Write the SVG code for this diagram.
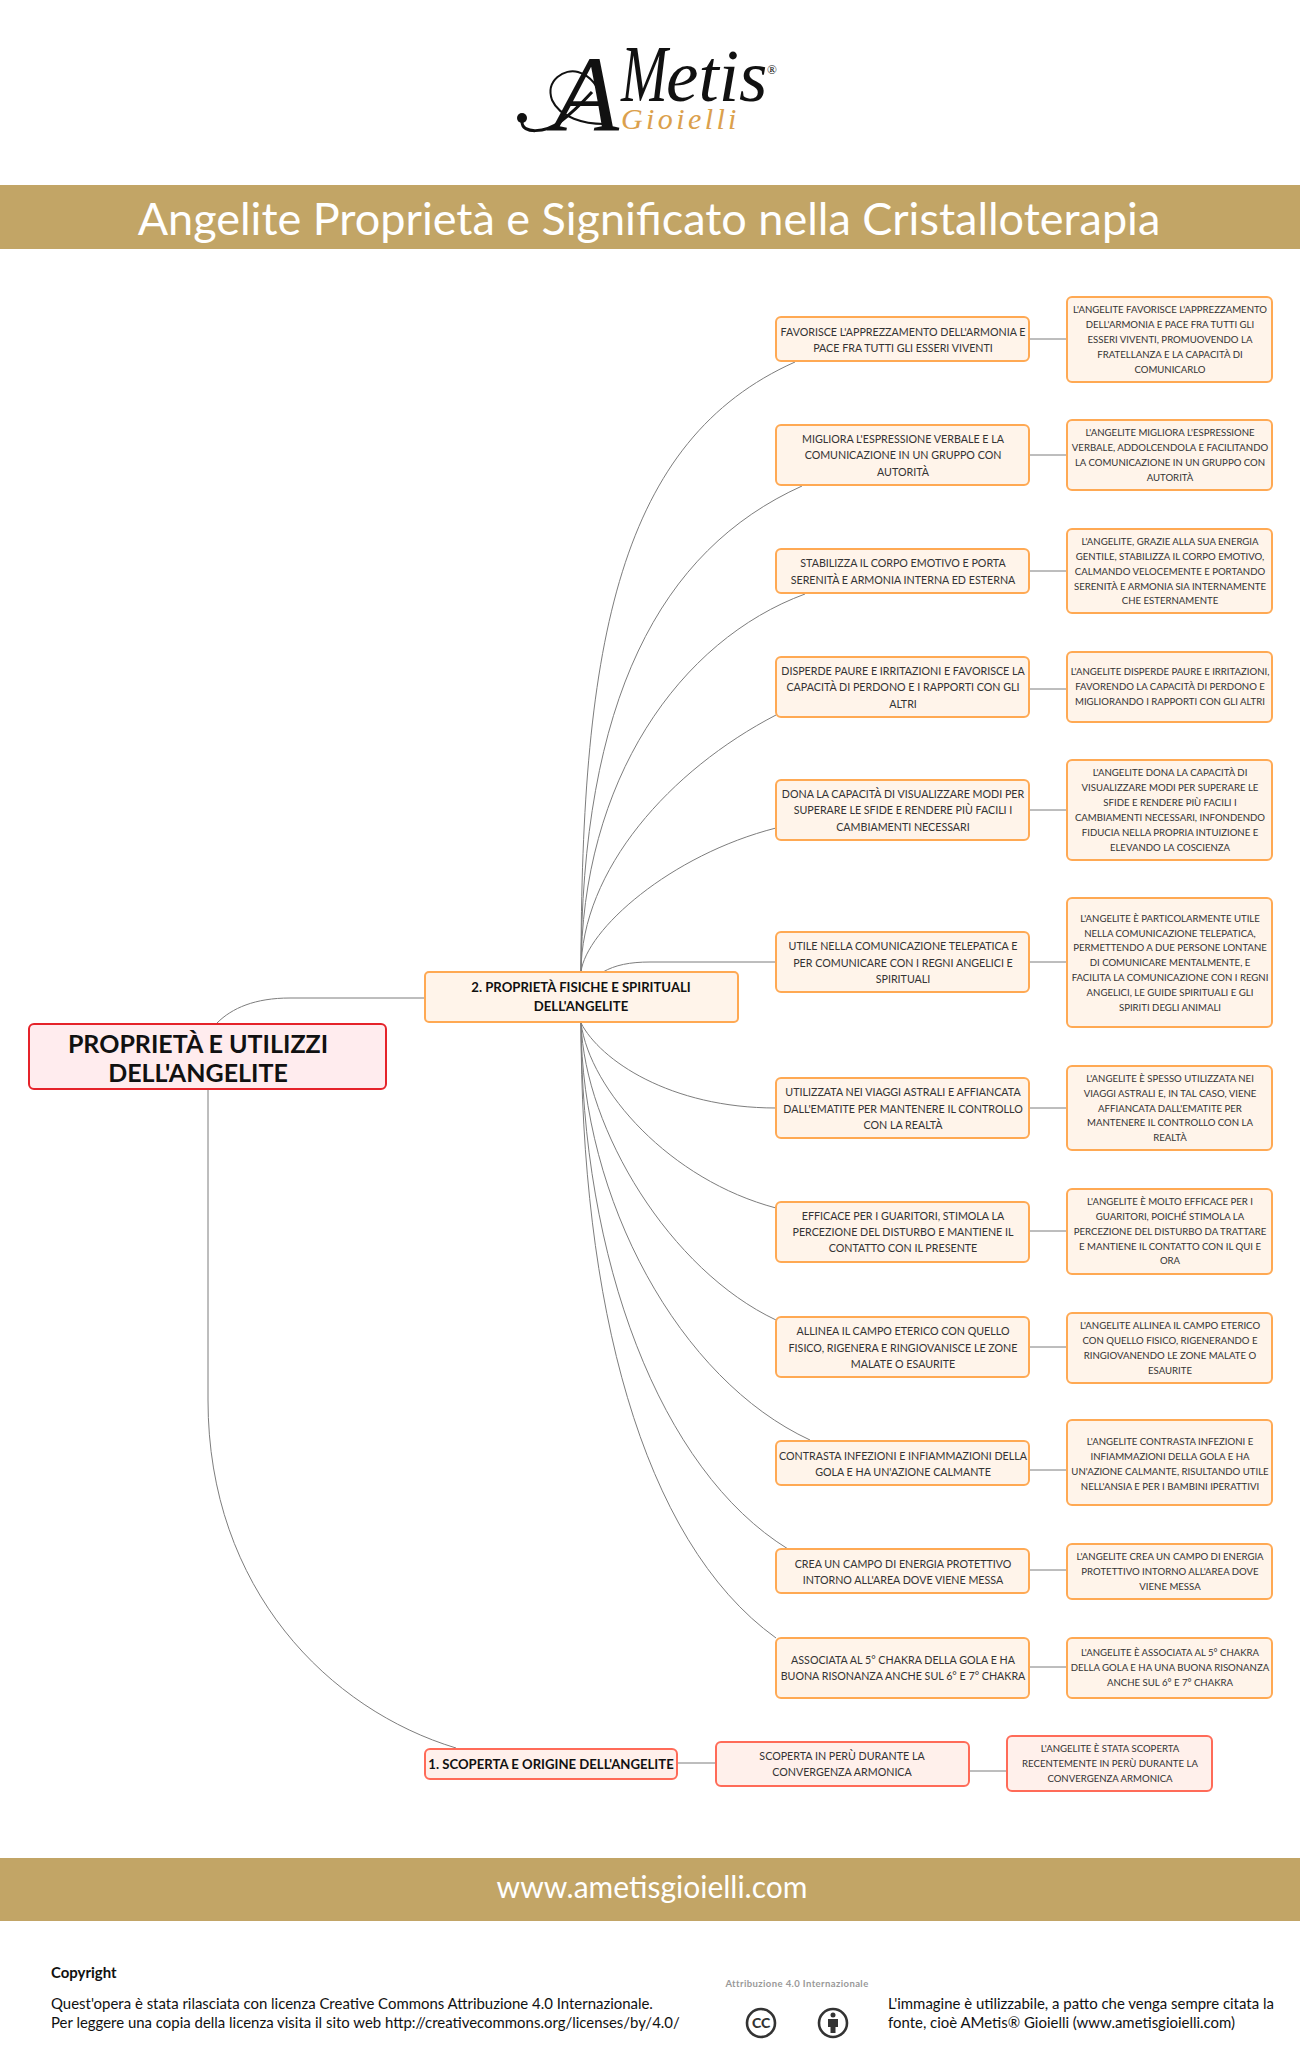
<svg xmlns="http://www.w3.org/2000/svg" width="1300" height="2066" viewBox="0 0 1300 2066">
<style>
text{font-family:"Lato","Liberation Sans",sans-serif;fill:#333}
.m rect{fill:#fff4ea;stroke:#ffa953;stroke-width:2}
.s rect{fill:#fff0eb;stroke:#ff6b58;stroke-width:2}
.m text,.s text{text-anchor:middle}
.t text{font-size:10.7px}
.r text{font-size:9.6px}
.b text{font-weight:700;fill:#111;font-size:13.15px}
.c path{fill:none;stroke:#7d7d7d;stroke-width:1}
.band{fill:#c2a566}
.f text{font-size:14.95px;fill:#111}
.logo{font-family:"Liberation Serif",serif;font-style:italic}
</style>
<rect width="1300" height="2066" fill="#fff"/>
<g id="logo">
<path d="M522 122C522 134 545 133 560 122C572 113 582 103 592 92" fill="none" stroke="#111" stroke-width="3"/>
<path d="M604 124C585 124 560 118 552 100C545 80 565 68 578 72C592 76 600 90 604 103" fill="none" stroke="#111" stroke-width="2"/>
<circle cx="522" cy="118" r="5" fill="#111"/>
<text class="logo" x="553" y="131" font-size="108" style="fill:#111">A</text>
<text class="logo" transform="translate(621 101) scale(.7 1)" font-size="80" style="fill:#111">M</text>
<text class="logo" x="666" y="101" font-size="73" style="fill:#111">etis</text>
<text class="logo" x="767" y="74" font-size="13" style="fill:#111;font-style:normal">®</text>
<text class="logo" x="621" y="129" font-size="30" letter-spacing="3.4" style="fill:#dba04c">Gioielli</text>
</g>
<rect class="band" y="185" width="1300" height="64"/>
<text x="649" y="235" text-anchor="middle" font-size="45" style="fill:#fff">Angelite Proprietà e Significato nella Cristalloterapia</text>
<g class="c" id="connectors">
<path d="M424 998L290 998C255 998 232 1008 217 1023"/>
<path d="M208 1089L208 1400C208 1590 330 1710 456 1748"/>
<path d="M581 972C581 640 620 440 795 362"/>
<path d="M581 972C581 700 660 550 802 486"/>
<path d="M581 972C581 780 680 640 805 594"/>
<path d="M581 972C581 870 670 770 776 715"/>
<path d="M581 972C586 930 670 855 776 828"/>
<path d="M603 972C615 965 630 962 650 962L776 962"/>
<path d="M581 1023C600 1060 670 1108 776 1108"/>
<path d="M581 1023C590 1090 670 1180 776 1208"/>
<path d="M581 1023C585 1130 670 1270 776 1320"/>
<path d="M581 1023C581 1200 680 1380 810 1440"/>
<path d="M581 1023C581 1260 660 1470 788 1549"/>
<path d="M581 1023C581 1300 640 1540 776 1638"/>
<path d="M1029 339H1067M1029 455H1067M1029 571H1067M1029 689H1067M1029 810H1067M1029 962H1067M1029 1108H1067M1029 1231H1067M1029 1347H1067M1029 1470H1067M1029 1570H1067M1029 1667H1067"/>
<path d="M678 1763H715M969 1771H1007"/>
</g>
<g id="root"><rect x="29" y="1024" width="357" height="65" rx="5" fill="#ffecee" stroke="#e5232a" stroke-width="2"/>
<text x="198" y="1053" text-anchor="middle" font-size="25" font-weight="700" style="fill:#111">PROPRIETÀ E UTILIZZI</text><text x="198" y="1082" text-anchor="middle" font-size="25" font-weight="700" style="fill:#111">DELL'ANGELITE</text></g>
<g id="n2" class="m b"><rect x="425" y="972" width="313" height="50" rx="4"/><text x="581" y="992">2. PROPRIETÀ FISICHE E SPIRITUALI</text><text x="581" y="1011">DELL'ANGELITE</text></g>
<g id="n1" class="s b"><rect x="425" y="1749" width="252" height="30" rx="5"/><text x="551" y="1769">1. SCOPERTA E ORIGINE DELL'ANGELITE</text></g>
<g id="s1" class="s t"><rect x="716" y="1742" width="253" height="44" rx="5"/><text x="842" y="1760">SCOPERTA IN PERÙ DURANTE LA</text><text x="842" y="1776">CONVERGENZA ARMONICA</text></g>
<g id="s2" class="s r"><rect x="1007" y="1736" width="205" height="55" rx="5"/><text x="1110" y="1752">L'ANGELITE È STATA SCOPERTA</text><text x="1110" y="1767">RECENTEMENTE IN PERÙ DURANTE LA</text><text x="1110" y="1782">CONVERGENZA ARMONICA</text></g>

<g id="a1" class="m t"><rect x="776" y="317" width="253" height="44" rx="5"/><text x="903" y="336">FAVORISCE L'APPREZZAMENTO DELL'ARMONIA E</text><text x="903" y="352">PACE FRA TUTTI GLI ESSERI VIVENTI</text></g>
<g id="b1" class="m r"><rect x="1067" y="297" width="205" height="85" rx="5"/><text x="1170" y="313">L'ANGELITE FAVORISCE L'APPREZZAMENTO</text><text x="1170" y="328">DELL'ARMONIA E PACE FRA TUTTI GLI</text><text x="1170" y="343">ESSERI VIVENTI, PROMUOVENDO LA</text><text x="1170" y="358">FRATELLANZA E LA CAPACITÀ DI</text><text x="1170" y="373">COMUNICARLO</text></g>
<g id="a2" class="m t"><rect x="776" y="425" width="253" height="60" rx="5"/><text x="903" y="443">MIGLIORA L'ESPRESSIONE VERBALE E LA</text><text x="903" y="459">COMUNICAZIONE IN UN GRUPPO CON</text><text x="903" y="476">AUTORITÀ</text></g>
<g id="b2" class="m r"><rect x="1067" y="420" width="205" height="70" rx="5"/><text x="1170" y="436">L'ANGELITE MIGLIORA L'ESPRESSIONE</text><text x="1170" y="451">VERBALE, ADDOLCENDOLA E FACILITANDO</text><text x="1170" y="466">LA COMUNICAZIONE IN UN GRUPPO CON</text><text x="1170" y="481">AUTORITÀ</text></g>
<g id="a3" class="m t"><rect x="776" y="549" width="253" height="44" rx="5"/><text x="903" y="567">STABILIZZA IL CORPO EMOTIVO E PORTA</text><text x="903" y="584">SERENITÀ E ARMONIA INTERNA ED ESTERNA</text></g>
<g id="b3" class="m r"><rect x="1067" y="529" width="205" height="84" rx="5"/><text x="1170" y="545">L'ANGELITE, GRAZIE ALLA SUA ENERGIA</text><text x="1170" y="560">GENTILE, STABILIZZA IL CORPO EMOTIVO,</text><text x="1170" y="575">CALMANDO VELOCEMENTE E PORTANDO</text><text x="1170" y="590">SERENITÀ E ARMONIA SIA INTERNAMENTE</text><text x="1170" y="604">CHE ESTERNAMENTE</text></g>
<g id="a4" class="m t"><rect x="776" y="657" width="253" height="60" rx="5"/><text x="903" y="675">DISPERDE PAURE E IRRITAZIONI E FAVORISCE LA</text><text x="903" y="691">CAPACITÀ DI PERDONO E I RAPPORTI CON GLI</text><text x="903" y="708">ALTRI</text></g>
<g id="b4" class="m r"><rect x="1067" y="652" width="205" height="70" rx="5"/><text x="1170" y="675">L'ANGELITE DISPERDE PAURE E IRRITAZIONI,</text><text x="1170" y="690">FAVORENDO LA CAPACITÀ DI PERDONO E</text><text x="1170" y="705">MIGLIORANDO I RAPPORTI CON GLI ALTRI</text></g>
<g id="a5" class="m t"><rect x="776" y="780" width="253" height="60" rx="5"/><text x="903" y="798">DONA LA CAPACITÀ DI VISUALIZZARE MODI PER</text><text x="903" y="814">SUPERARE LE SFIDE E RENDERE PIÙ FACILI I</text><text x="903" y="831">CAMBIAMENTI NECESSARI</text></g>
<g id="b5" class="m r"><rect x="1067" y="760" width="205" height="100" rx="5"/><text x="1170" y="776">L'ANGELITE DONA LA CAPACITÀ DI</text><text x="1170" y="791">VISUALIZZARE MODI PER SUPERARE LE</text><text x="1170" y="806">SFIDE E RENDERE PIÙ FACILI I</text><text x="1170" y="821">CAMBIAMENTI NECESSARI, INFONDENDO</text><text x="1170" y="836">FIDUCIA NELLA PROPRIA INTUIZIONE E</text><text x="1170" y="851">ELEVANDO LA COSCIENZA</text></g>
<g id="a6" class="m t"><rect x="776" y="932" width="253" height="60" rx="5"/><text x="903" y="950">UTILE NELLA COMUNICAZIONE TELEPATICA E</text><text x="903" y="967">PER COMUNICARE CON I REGNI ANGELICI E</text><text x="903" y="983">SPIRITUALI</text></g>
<g id="b6" class="m r"><rect x="1067" y="898" width="205" height="129" rx="5"/><text x="1170" y="922">L'ANGELITE È PARTICOLARMENTE UTILE</text><text x="1170" y="937">NELLA COMUNICAZIONE TELEPATICA,</text><text x="1170" y="951">PERMETTENDO A DUE PERSONE LONTANE</text><text x="1170" y="966">DI COMUNICARE MENTALMENTE, E</text><text x="1170" y="981">FACILITA LA COMUNICAZIONE CON I REGNI</text><text x="1170" y="996">ANGELICI, LE GUIDE SPIRITUALI E GLI</text><text x="1170" y="1011">SPIRITI DEGLI ANIMALI</text></g>
<g id="a7" class="m t"><rect x="776" y="1078" width="253" height="60" rx="5"/><text x="903" y="1096">UTILIZZATA NEI VIAGGI ASTRALI E AFFIANCATA</text><text x="903" y="1113">DALL'EMATITE PER MANTENERE IL CONTROLLO</text><text x="903" y="1129">CON LA REALTÀ</text></g>
<g id="b7" class="m r"><rect x="1067" y="1066" width="205" height="84" rx="5"/><text x="1170" y="1082">L'ANGELITE È SPESSO UTILIZZATA NEI</text><text x="1170" y="1097">VIAGGI ASTRALI E, IN TAL CASO, VIENE</text><text x="1170" y="1112">AFFIANCATA DALL'EMATITE PER</text><text x="1170" y="1126">MANTENERE IL CONTROLLO CON LA</text><text x="1170" y="1141">REALTÀ</text></g>
<g id="a8" class="m t"><rect x="776" y="1202" width="253" height="60" rx="5"/><text x="903" y="1220">EFFICACE PER I GUARITORI, STIMOLA LA</text><text x="903" y="1236">PERCEZIONE DEL DISTURBO E MANTIENE IL</text><text x="903" y="1252">CONTATTO CON IL PRESENTE</text></g>
<g id="b8" class="m r"><rect x="1067" y="1189" width="205" height="85" rx="5"/><text x="1170" y="1205">L'ANGELITE È MOLTO EFFICACE PER I</text><text x="1170" y="1220">GUARITORI, POICHÉ STIMOLA LA</text><text x="1170" y="1235">PERCEZIONE DEL DISTURBO DA TRATTARE</text><text x="1170" y="1250">E MANTIENE IL CONTATTO CON IL QUI E</text><text x="1170" y="1264">ORA</text></g>
<g id="a9" class="m t"><rect x="776" y="1317" width="253" height="60" rx="5"/><text x="903" y="1335">ALLINEA IL CAMPO ETERICO CON QUELLO</text><text x="903" y="1352">FISICO, RIGENERA E RINGIOVANISCE LE ZONE</text><text x="903" y="1368">MALATE O ESAURITE</text></g>
<g id="b9" class="m r"><rect x="1067" y="1313" width="205" height="70" rx="5"/><text x="1170" y="1329">L'ANGELITE ALLINEA IL CAMPO ETERICO</text><text x="1170" y="1344">CON QUELLO FISICO, RIGENERANDO E</text><text x="1170" y="1359">RINGIOVANENDO LE ZONE MALATE O</text><text x="1170" y="1374">ESAURITE</text></g>
<g id="a10" class="m t"><rect x="776" y="1441" width="253" height="44" rx="5"/><text x="903" y="1460">CONTRASTA INFEZIONI E INFIAMMAZIONI DELLA</text><text x="903" y="1476">GOLA E HA UN'AZIONE CALMANTE</text></g>
<g id="b10" class="m r"><rect x="1067" y="1420" width="205" height="85" rx="5"/><text x="1170" y="1445">L'ANGELITE CONTRASTA INFEZIONI E</text><text x="1170" y="1460">INFIAMMAZIONI DELLA GOLA E HA</text><text x="1170" y="1475">UN'AZIONE CALMANTE, RISULTANDO UTILE</text><text x="1170" y="1490">NELL'ANSIA E PER I BAMBINI IPERATTIVI</text></g>
<g id="a11" class="m t"><rect x="776" y="1549" width="253" height="44" rx="5"/><text x="903" y="1568">CREA UN CAMPO DI ENERGIA PROTETTIVO</text><text x="903" y="1584">INTORNO ALL'AREA DOVE VIENE MESSA</text></g>
<g id="b11" class="m r"><rect x="1067" y="1544" width="205" height="55" rx="5"/><text x="1170" y="1560">L'ANGELITE CREA UN CAMPO DI ENERGIA</text><text x="1170" y="1575">PROTETTIVO INTORNO ALL'AREA DOVE</text><text x="1170" y="1590">VIENE MESSA</text></g>
<g id="a12" class="m t"><rect x="776" y="1638" width="253" height="60" rx="5"/><text x="903" y="1664">ASSOCIATA AL 5° CHAKRA DELLA GOLA E HA</text><text x="903" y="1680">BUONA RISONANZA ANCHE SUL 6° E 7° CHAKRA</text></g>
<g id="b12" class="m r"><rect x="1067" y="1638" width="205" height="60" rx="5"/><text x="1170" y="1656">L'ANGELITE È ASSOCIATA AL 5° CHAKRA</text><text x="1170" y="1671">DELLA GOLA E HA UNA BUONA RISONANZA</text><text x="1170" y="1686">ANCHE SUL 6° E 7° CHAKRA</text></g>

<rect class="band" y="1858" width="1300" height="63"/>
<text x="652" y="1898" text-anchor="middle" font-size="30" style="fill:#fff">www.ametisgioielli.com</text>
<g class="f">
<text x="51" y="1978" font-weight="700">Copyright</text>
<text x="51" y="2009">Quest'opera è stata rilasciata con licenza Creative Commons Attribuzione 4.0 Internazionale.</text>
<text x="51" y="2028">Per leggere una copia della licenza visita il sito web http://creativecommons.org/licenses/by/4.0/</text>
<text x="888" y="2009">L'immagine è utilizzabile, a patto che venga sempre citata la</text>
<text x="888" y="2028">fonte, cioè AMetis® Gioielli (www.ametisgioielli.com)</text>
</g>
<g id="cc">
<text x="797" y="1987" text-anchor="middle" font-size="9.5" font-weight="700" style="fill:#999" letter-spacing=".4">Attribuzione 4.0 Internazionale</text>
<circle cx="761" cy="2023" r="14" fill="none" stroke="#333" stroke-width="2.6"/>
<text x="761" y="2028" text-anchor="middle" font-size="14" font-weight="900">CC</text>
<circle cx="833" cy="2023" r="14" fill="none" stroke="#333" stroke-width="2.6"/>
<circle cx="833" cy="2015" r="2.5" fill="#333"/><path d="M828 2019H838V2027H835.500V2033H830.500V2027H828Z" fill="#333"/>
</g>
</svg>
